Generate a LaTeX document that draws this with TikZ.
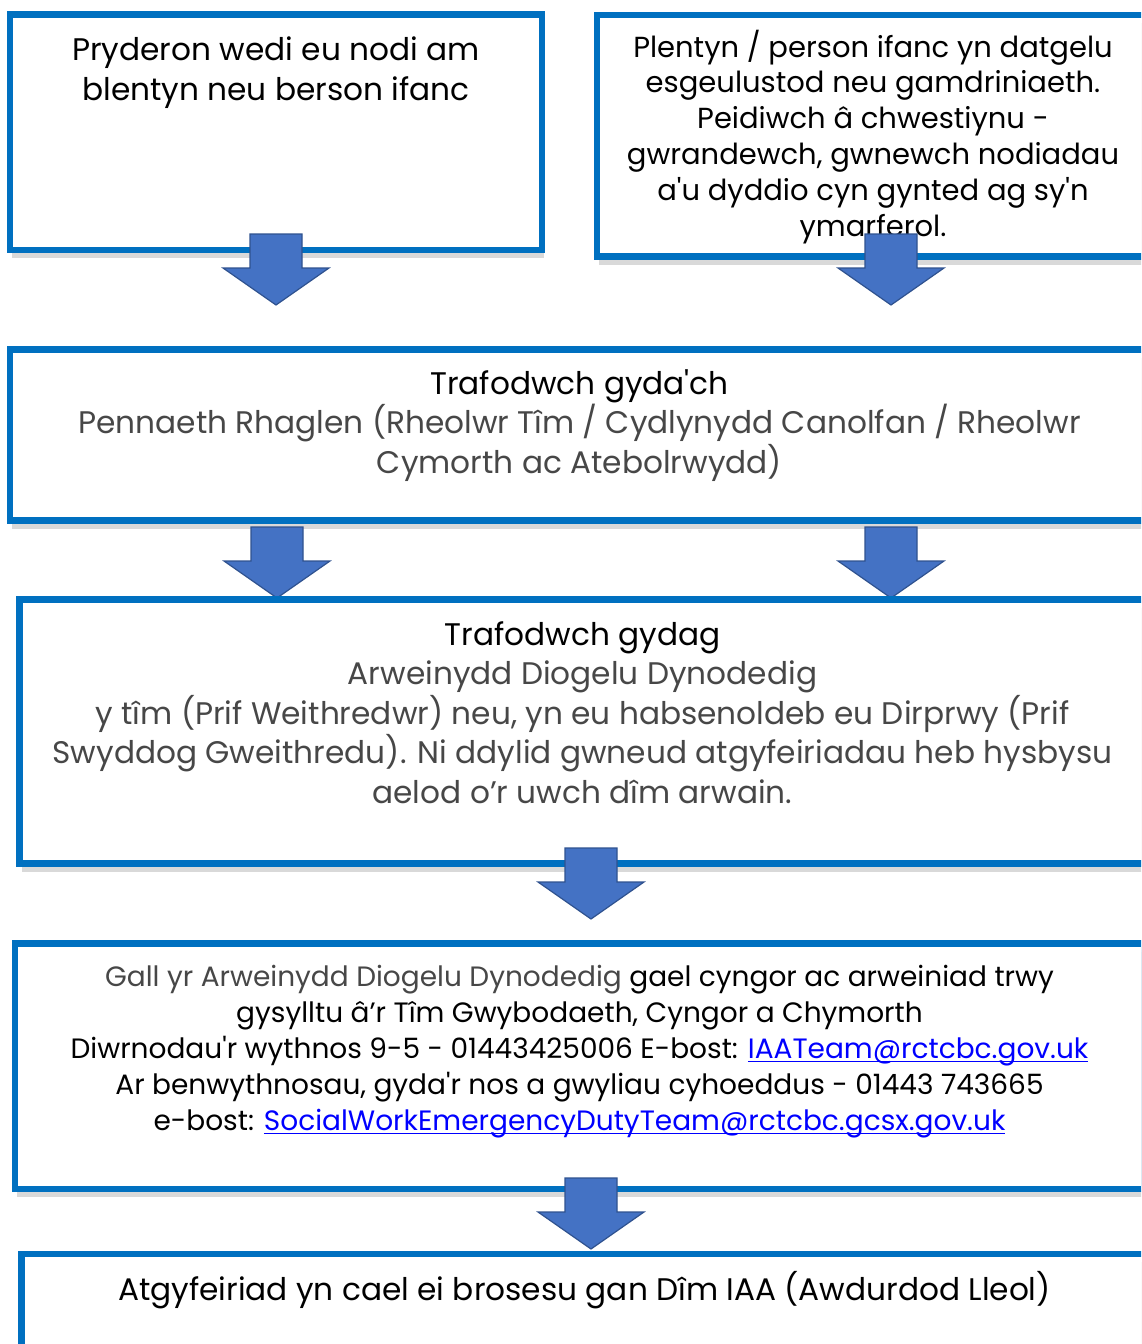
\documentclass[tikz,border=0pt]{standalone}
\usepackage{fontspec}
\setmainfont{Poppins}[Ligatures=TeXOff]
\usetikzlibrary{shadows}

\definecolor{boxblue}{HTML}{0070C0}
\definecolor{arrowblue}{HTML}{4472C4}
\definecolor{arrowedge}{HTML}{2F528F}
\definecolor{softgrey}{HTML}{474747}
\definecolor{linkblue}{HTML}{0000FF}
\newsavebox{\linkbox}
\newcommand{\weblink}[1]{{\color{linkblue}\sbox{\linkbox}{#1}\rlap{\rule[-4pt]{\wd\linkbox}{1.4pt}}\usebox{\linkbox}}}

\begin{document}
\begin{tikzpicture}[x=1pt, y=-1pt,
    stage/.style={rectangle, draw=boxblue, line width=6.5pt, fill=white, anchor=north west,
        inner sep=0pt, outer sep=0pt,
        drop shadow={opacity=0.3, shadow xshift=2pt, shadow yshift=-8pt}},
    words/.style={anchor=base, align=center, inner sep=0pt, font=\fontsize{31.2}{39.5}\selectfont},
    smallwords/.style={words, font=\fontsize{29}{35.8}\selectfont},
    linkwords/.style={words, font=\fontsize{28}{35.8}\selectfont},
    downarrow/.pic={
        \filldraw[fill=arrowblue, draw=arrowedge, line width=1.2pt]
            (-26,0) -- (26,0) -- (26,34) -- (53,34) -- (0,71) -- (-53,34) -- (-26,34) -- cycle;
    }]
    \useasboundingbox (0,0) rectangle (1141,1344);
    \clip (0,0) rectangle (1141,1344);

    % Top left: concerns noticed
    \node[stage, minimum width=532pt, minimum height=235.5pt] (worry) at (10,14.5) {};
    \node[words] (worrytext) at (276,100) {Pryderon wedi eu nodi am\\blentyn neu berson ifanc};

    % Top right: child discloses
    \node[stage, minimum width=552pt, minimum height=241.5pt] (disclose) at (597,15) {};
    \node[smallwords] (disclosetext) at (873,236) {Plentyn / person ifanc yn datgelu\\
        esgeulustod neu gamdriniaeth.\\Peidiwch â chwestiynu -\\
        gwrandewch, gwnewch nodiadau\\a'u dyddio cyn gynted ag sy'n\\ymarferol.};

    % Arrows into the discussion box
    \pic (arrowa) at (276,234) {downarrow};
    \pic (arrowb) at (891,234) {downarrow};

    % Discuss with head of programme
    \node[stage, minimum width=1139pt, minimum height=171pt] (programme) at (10,349.5) {};
    \node[words] (programmetext) at (579.5,473.3) {Trafodwch gyda'ch\\
        \textcolor{softgrey}{Pennaeth Rhaglen (Rheolwr Tîm / Cydlynydd Canolfan / Rheolwr}\\
        \textcolor{softgrey}{Cymorth ac Atebolrwydd)}};

    \pic (arrowc) at (277,527) {downarrow};
    \pic (arrowd) at (891,527) {downarrow};

    % Discuss with the safeguarding lead
    \node[stage, minimum width=1126pt, minimum height=264pt] (lead) at (19.5,599.5) {};
    \node[words] (leadtext) at (582.5,803) {Trafodwch gydag\\
        \textcolor{softgrey}{Arweinydd Diogelu Dynodedig}\\
        \textcolor{softgrey}{y tîm (Prif Weithredwr) neu, yn eu habsenoldeb eu Dirprwy (Prif}\\
        \textcolor{softgrey}{Swyddog Gweithredu). Ni ddylid gwneud atgyfeiriadau heb hysbysu}\\
        \textcolor{softgrey}{aelod o’r uwch dîm arwain.}};

    \pic (arrowe) at (591,848) {downarrow};

    % Advice and contact details
    \node[stage, minimum width=1129pt, minimum height=245.5pt] (advice) at (15,943.5) {};
    \node[linkwords] (advicetext) at (579.5,1130) {\textcolor{softgrey}{Gall yr Arweinydd Diogelu Dynodedig} gael cyngor ac arweiniad trwy\\
        gysylltu â’r Tîm Gwybodaeth, Cyngor a Chymorth\\
        Diwrnodau'r wythnos 9-5 - 01443425006 E-bost: \weblink{IAATeam@rctcbc.gov.uk}\\
        Ar benwythnosau, gyda'r nos a gwyliau cyhoeddus - 01443 743665\\
        e-bost: \weblink{SocialWorkEmergencyDutyTeam@rctcbc.gcsx.gov.uk}};

    \pic (arrowf) at (591,1178) {downarrow};

    % Referral processed
    \node[stage, minimum width=1126pt, minimum height=200pt] (referral) at (21.5,1254) {};
    \node[words] (referraltext) at (584.5,1300.5) {Atgyfeiriad yn cael ei brosesu gan Dîm IAA (Awdurdod Lleol)};
\end{tikzpicture}
\end{document}
